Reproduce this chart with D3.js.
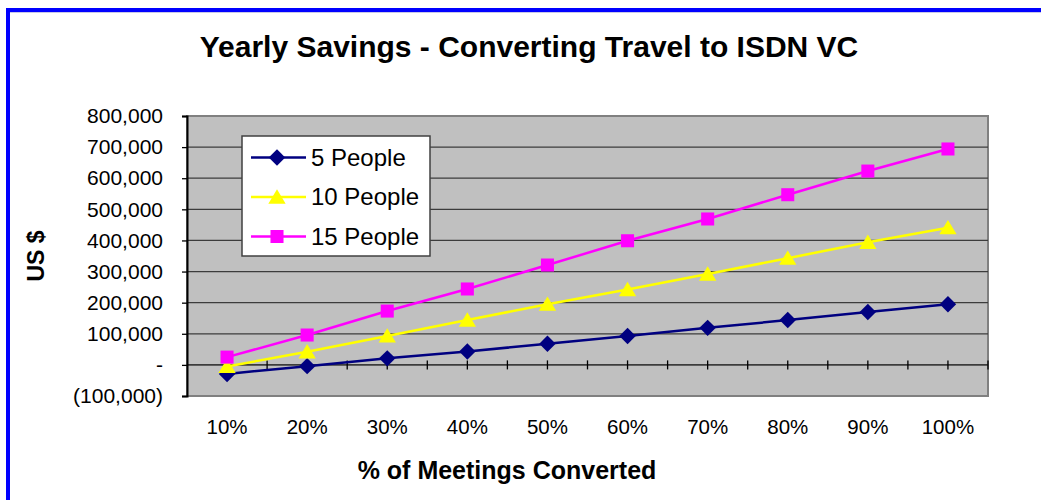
<!DOCTYPE html>
<html>
<head>
<meta charset="utf-8">
<script src="https://cdn.jsdelivr.net/npm/d3@7"></script>
<style>
  html, body { margin: 0; padding: 0; background: #fff; }
  svg { display: block; font-family: "Liberation Sans", Arial, sans-serif; }
</style>
</head>
<body>
<div id="chart"></div>
<script>
// chart values
const categories = ["10%", "20%", "30%", "40%", "50%", "60%", "70%", "80%", "90%", "100%"];
const people5 = [-29000, -4000, 21000, 43000, 68000, 93000, 119000, 144000, 170000, 195000];
const people10 = [-5000, 42000, 93000, 144000, 195000, 242000, 292000, 343000, 394000, 441000];
const people15 = [25000, 96000, 173000, 244000, 321000, 399000, 469000, 547000, 623000, 694000];
const seriesNames = ["5 People", "10 People", "15 People"];
const yTicks = [-100000, 0, 100000, 200000, 300000, 400000, 500000, 600000, 700000, 800000];

const W = 1041, H = 500;
const plot = {left: 187, right: 988, top: 116, bottom: 396};

const svg = d3.select("#chart").append("svg")
    .attr("width", W)
    .attr("height", H);

svg.append("rect").attr("width", W).attr("height", H).attr("fill", "#fff");

// blue frame (runs off the right and bottom of the picture)
svg.append("rect")
    .attr("x", 8).attr("y", 10)
    .attr("width", W + 20).attr("height", H + 20)
    .attr("fill", "none")
    .attr("stroke", "#0000ff")
    .attr("stroke-width", 4);
svg.append("line")
    .attr("x1", 10).attr("x2", W).attr("y1", 12.5).attr("y2", 12.5)
    .attr("stroke", "#c8c8e8").attr("stroke-width", 1);

// marker shapes like the spreadsheet ones
const diamond = {
    draw(ctx, size) {
        const r = Math.sqrt(size / 2);
        ctx.moveTo(0, -r); ctx.lineTo(r, 0); ctx.lineTo(0, r); ctx.lineTo(-r, 0); ctx.closePath();
    }
};
const triangle = {
    draw(ctx, size) {
        const w = Math.sqrt(size * 2) / 2, h = w * 0.9;
        ctx.moveTo(0, -h); ctx.lineTo(w, h * 0.85); ctx.lineTo(-w, h * 0.85); ctx.closePath();
    }
};

// scales
const x = d3.scaleBand()
    .domain(categories)
    .range([plot.left, plot.right])
    .padding(0);
const bw = x.bandwidth();
const cx = c => x(c) + bw / 2;

const y = d3.scaleLinear()
    .domain([yTicks[0], yTicks[yTicks.length - 1]])
    .range([plot.bottom, plot.top]);

// plot area
svg.append("rect")
    .attr("x", plot.left).attr("y", plot.top)
    .attr("width", plot.right - plot.left)
    .attr("height", plot.bottom - plot.top)
    .attr("fill", "#c0c0c0")
    .attr("stroke", "#808080")
    .attr("stroke-width", 2);

// gridlines
svg.append("g")
    .selectAll("line")
    .data(yTicks.filter(v => v > 0 && v < yTicks[yTicks.length - 1]))
    .join("line")
    .attr("x1", plot.left).attr("x2", plot.right)
    .attr("y1", d => y(d)).attr("y2", d => y(d))
    .attr("stroke", "#3c3c3c")
    .attr("stroke-width", 1.3);

// category axis along the zero line, ticks crossing it at every half band
const tickXs = [];
categories.forEach(c => { tickXs.push(x(c)); tickXs.push(cx(c)); });
tickXs.push(plot.right);
const zeroY = y(0);
const zeroAxis = svg.append("g");
zeroAxis.append("line")
    .attr("x1", plot.left).attr("x2", plot.right)
    .attr("y1", zeroY).attr("y2", zeroY)
    .attr("stroke", "#3c3c3c").attr("stroke-width", 1.6);
zeroAxis.selectAll("line.tk")
    .data(tickXs.slice(1))
    .join("line")
    .attr("class", "tk")
    .attr("x1", d => d).attr("x2", d => d)
    .attr("y1", zeroY - 4.5).attr("y2", zeroY + 4.5)
    .attr("stroke", "#000").attr("stroke-width", 1.3);

// category labels below the plot
svg.append("g")
    .selectAll("text")
    .data(categories)
    .join("text")
    .attr("x", d => cx(d))
    .attr("y", 434)
    .attr("text-anchor", "middle")
    .attr("font-size", 20.5)
    .text(d => d);

// value axis
const fmt = d3.format(",");
const yAxis = svg.append("g")
    .attr("transform", `translate(${plot.left},0)`)
    .call(d3.axisLeft(y)
        .tickValues(yTicks)
        .tickSize(5)
        .tickPadding(19)
        .tickFormat(v => v === 0 ? "-" : v < 0 ? `(${fmt(-v)})` : fmt(v)));
yAxis.select(".domain").attr("stroke", "#000").attr("stroke-width", 2);
yAxis.selectAll(".tick line").attr("stroke", "#000").attr("stroke-width", 1.3);
yAxis.selectAll(".tick text")
    .attr("font-family", "\"Liberation Sans\", Arial, sans-serif")
    .attr("font-size", 21)
    .attr("fill", "#000");

// series
const series = [
    {name: seriesNames[0], values: people5, color: "#000080", shape: diamond, size: 135},
    {name: seriesNames[1], values: people10, color: "#ffff00", shape: triangle, size: 150},
    {name: seriesNames[2], values: people15, color: "#ff00ff", shape: d3.symbolSquare, size: 170}
];

const line = d3.line()
    .x((d, i) => cx(categories[i]))
    .y(d => y(d));

series.forEach(s => {
    svg.append("path")
        .datum(s.values)
        .attr("fill", "none")
        .attr("stroke", s.color)
        .attr("stroke-width", 2.5)
        .attr("d", line);
});

series.forEach(s => {
    svg.append("g")
        .selectAll("path")
        .data(s.values)
        .join("path")
        .attr("transform", (d, i) => `translate(${cx(categories[i])},${y(d)})`)
        .attr("d", d3.symbol().type(s.shape).size(s.size))
        .attr("fill", s.color);
});

// legend
const legend = svg.append("g");
legend.append("rect")
    .attr("x", 242).attr("y", 136)
    .attr("width", 188).attr("height", 120)
    .attr("fill", "#fff")
    .attr("stroke", "#404040")
    .attr("stroke-width", 1.5);
const rows = legend.selectAll("g.row")
    .data(series)
    .join("g")
    .attr("class", "row")
    .attr("transform", (d, i) => `translate(0,${157.5 + i * 39.5})`);
rows.append("line")
    .attr("x1", 251).attr("x2", 306)
    .attr("stroke", d => d.color)
    .attr("stroke-width", 2.5);
rows.append("path")
    .attr("transform", "translate(277,0)")
    .attr("d", d => d3.symbol().type(d.shape).size(d.size)())
    .attr("fill", d => d.color);
rows.append("text")
    .attr("x", 311)
    .attr("y", 8)
    .attr("font-size", 24)
    .text(d => d.name);

// titles
svg.append("text")
    .attr("x", 529).attr("y", 57)
    .attr("text-anchor", "middle")
    .attr("font-size", 30)
    .attr("font-weight", "bold")
    .text("Yearly Savings - Converting Travel to ISDN VC");

svg.append("text")
    .attr("x", 507).attr("y", 479)
    .attr("text-anchor", "middle")
    .attr("font-size", 25)
    .attr("font-weight", "bold")
    .text("% of Meetings Converted");

svg.append("text")
    .attr("transform", "translate(44,256) rotate(-90)")
    .attr("text-anchor", "middle")
    .attr("font-size", 23)
    .attr("font-weight", "bold")
    .text("US $");
</script>
</body>
</html>
